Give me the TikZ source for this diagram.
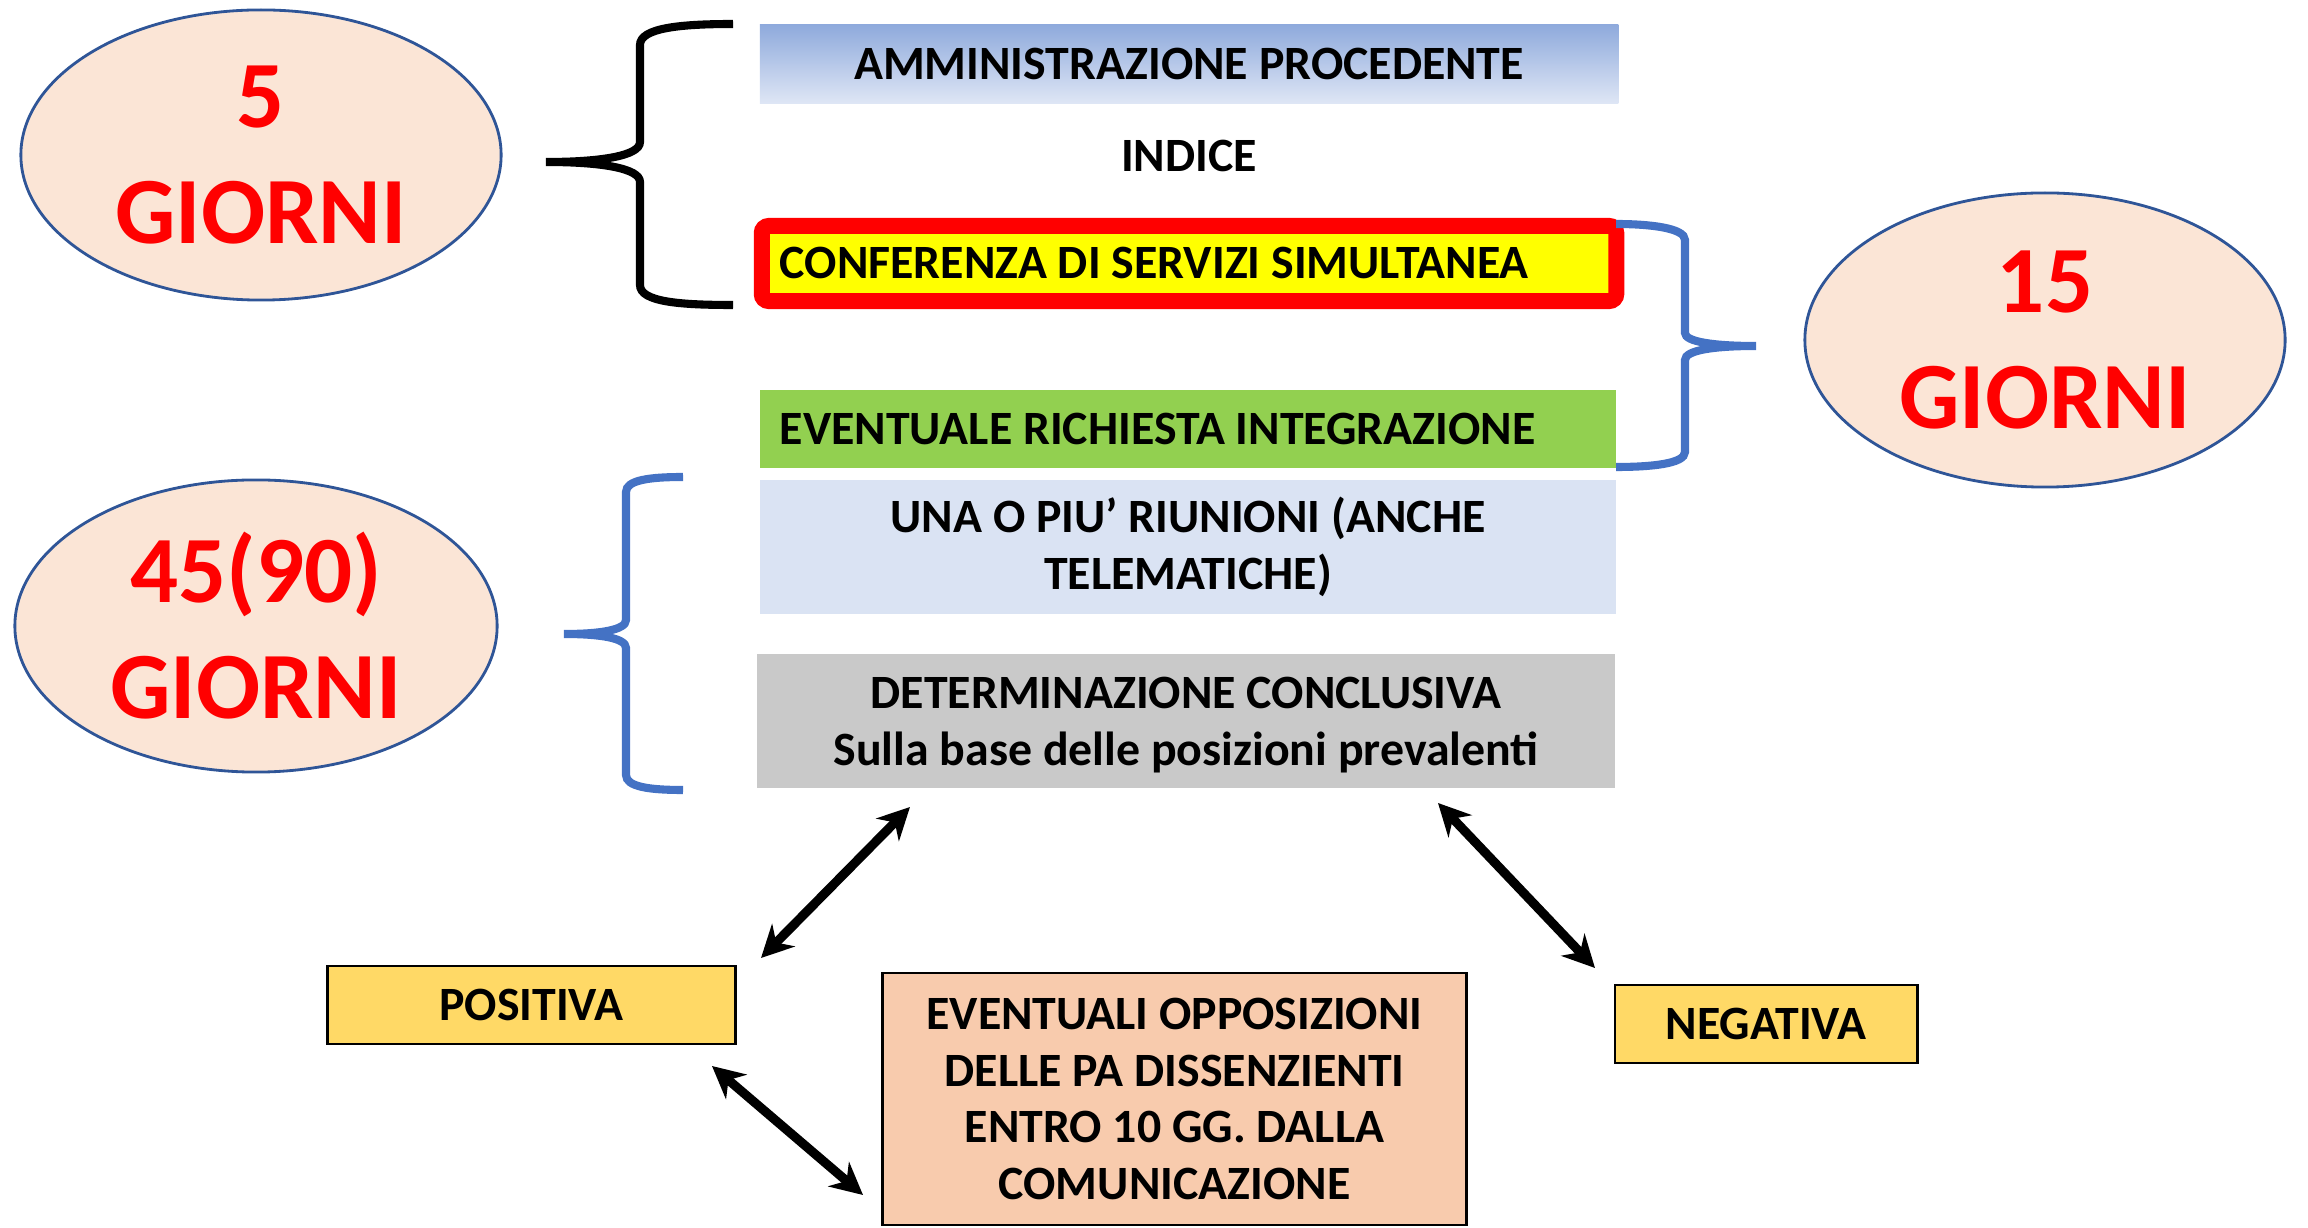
\documentclass[tikz,border=0pt]{standalone}
\usepackage{fontspec}
\setmainfont{Carlito}
\usetikzlibrary{shapes.geometric, arrows.meta}
\definecolor{peach}{HTML}{FBE5D6}
\definecolor{ovalline}{HTML}{2F5597}
\definecolor{ammtop}{HTML}{8FAADC}
\definecolor{ammbot}{HTML}{DEE6F5}
\definecolor{yel}{HTML}{FFFF00}
\definecolor{grn}{HTML}{92D050}
\definecolor{lblue}{HTML}{DAE3F3}
\definecolor{lgray}{HTML}{C9C9C9}
\definecolor{gold}{HTML}{FFD966}
\definecolor{salmon}{HTML}{F8CBAD}
\definecolor{bracecol}{HTML}{4472C4}

\begin{document}
\begin{tikzpicture}[x=0.01cm,y=-0.01cm]
						\tikzstyle{oval} = [ellipse,fill=peach,draw=ovalline,line width=0.8pt,inner sep=0pt,text=red,font=\fontsize{27}{33}\selectfont\bfseries,align=center]
						\tikzstyle{box} = [rectangle,inner sep=0pt,font=\fontsize{13.6}{16.2}\selectfont\bfseries,align=center]
						\tikzstyle{small} = [box,draw=black,line width=0.8pt]
						\tikzstyle{brace} = [line width=2.3pt]
						\tikzstyle{edge} = [{Stealth[length=3.2mm,width=3.2mm]}-{Stealth[length=3.2mm,width=3.2mm]},line width=2.6pt]
						\useasboundingbox (0,0) rectangle (2308,1228);
						\node[oval,minimum width=4.8cm,minimum height=2.9cm] (g5) at (261,155) {5\\GIORNI};
						\node[oval,minimum width=4.82cm,minimum height=2.92cm] (g45) at (256,626) {45(90)\\GIORNI};
						\node[oval,minimum width=4.8cm,minimum height=2.94cm] (g15) at (2045,340) {15\\GIORNI};
						\node[box,top color=ammtop,bottom color=ammbot,minimum width=8.58cm,minimum height=0.78cm] (amm) at (1189,64) {AMMINISTRAZIONE PROCEDENTE};
						\node[box] (indice) at (1189,156) {INDICE};
						\node[box,fill=yel,draw=red,line width=0.16cm,rounded corners=2pt,align=flush left,inner xsep=0.18cm,text width=8.18cm,minimum height=0.75cm] (conf) at (1189,263.5) {CONFERENZA DI SERVIZI SIMULTANEA};
						\node[box,fill=grn,align=flush left,inner xsep=0.2cm,text width=8.16cm,minimum height=0.78cm] (eve) at (1188,429) {EVENTUALE RICHIESTA INTEGRAZIONE};
						\node[box,fill=lblue,minimum width=8.56cm,minimum height=1.34cm] (una) at (1188,547) {UNA O PIU’ RIUNIONI (ANCHE\\TELEMATICHE)};
						\node[box,fill=lgray,minimum width=8.58cm,minimum height=1.34cm,text depth=0pt] (det) at (1186,721) {DETERMINAZIONE CONCLUSIVA\\Sulla base delle posizioni prevalenti};
						\node[small,fill=gold,minimum width=4.07cm,minimum height=0.78cm] (pos) at (531.5,1005) {POSITIVA};
						\node[small,fill=gold,minimum width=3.02cm,minimum height=0.78cm] (neg) at (1766,1024) {NEGATIVA};
						\node[small,fill=salmon,minimum width=5.83cm,minimum height=2.52cm] (opp) at (1174.5,1099) {EVENTUALI OPPOSIZIONI\\DELLE PA DISSENZIENTI\\ENTRO 10 GG. DALLA\\COMUNICAZIONE};
						
						\coordinate (p1) at (910,807);
						\coordinate (p2) at (761,958);
						\coordinate (q1) at (1438,803);
						\coordinate (q2) at (1595,968);
						\coordinate (r1) at (712,1066);
						\coordinate (r2) at (863,1195);
						\draw[edge] (p1)--(p2);
						\draw[edge] (q1)--(q2);
						\draw[edge] (r1)--(r2);
						
						\draw[brace,black] (733,24) .. controls (680,24) and (640,28) .. (640,45) -- (640,142) .. controls (640,156) and (600,162) .. (546,162) .. controls (600,162) and (640,168) .. (640,182) -- (640,285) .. controls (640,302) and (680,305) .. (733,305);
						\draw[brace,bracecol] (683,477) .. controls (650,477) and (626,480) .. (626,492) -- (626,620) .. controls (626,630) and (600,634) .. (564,634) .. controls (600,634) and (626,638) .. (626,648) -- (626,775) .. controls (626,787) and (650,790) .. (683,790);
						\draw[brace,bracecol] (1616,224) .. controls (1650,224) and (1685,228) .. (1685,240) -- (1685,333) .. controls (1685,342) and (1715,346) .. (1756,346) .. controls (1715,346) and (1685,350) .. (1685,360) -- (1685,452) .. controls (1685,464) and (1650,467) .. (1616,467);
						
						
						\end{tikzpicture}
\end{document}
